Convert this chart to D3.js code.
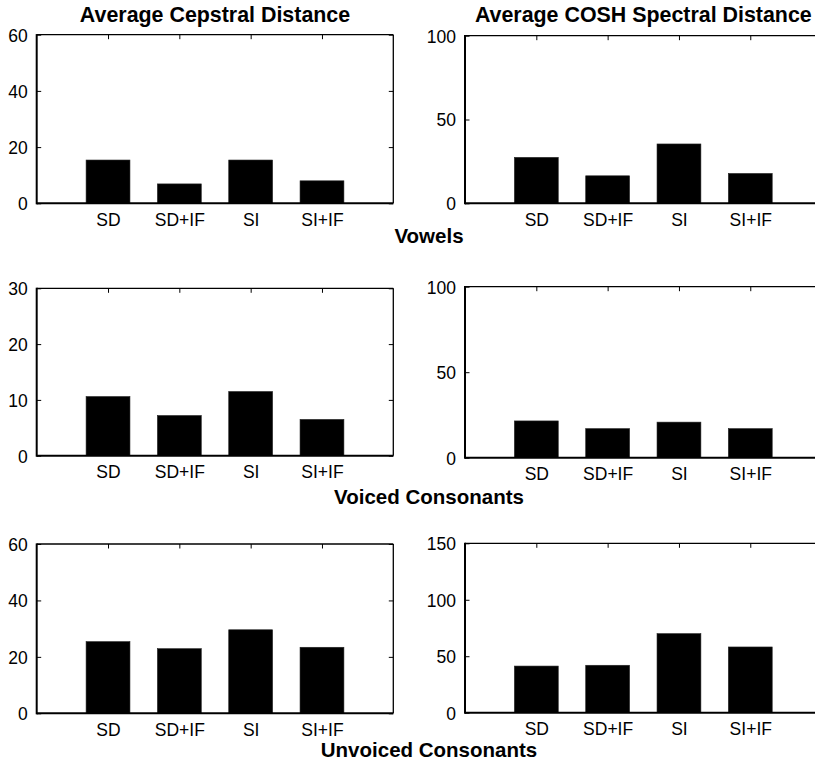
<!DOCTYPE html>
<html>
<head>
<meta charset="utf-8">
<script src="https://cdn.jsdelivr.net/npm/d3@7"></script>
<style>
  html, body { margin: 0; padding: 0; background: #fff; }
  svg { display: block; }
  text { font-family: "Liberation Sans", Arial, Helvetica, sans-serif; fill: #000; }
</style>
</head>
<body>
<svg id="chart" width="815" height="765"></svg>
<script>
// Method labels along each x axis
const categories = ["SD", "SD+IF", "SI", "SI+IF"];

// Column titles and row (phoneme class) labels
const columnTitles = ["Average Cepstral Distance", "Average COSH Spectral Distance"];
const rowLabels = ["Vowels", "Voiced Consonants", "Unvoiced Consonants"];

// Average distances per method
const cepstralVowels   = [15.4, 6.9, 15.4, 8.0];
const coshVowels       = [27.4, 16.4, 35.4, 17.8];
const cepstralVoiced   = [10.6, 7.2, 11.5, 6.5];
const coshVoiced       = [21.5, 17.0, 20.8, 17.0];
const cepstralUnvoiced = [25.4, 22.9, 29.6, 23.4];
const coshUnvoiced     = [41.3, 42.0, 70.0, 58.2];

// Y-axis upper limits and tick labels per panel
const yMax = [60, 100, 30, 100, 60, 150];
const yTicks = [
  [0, 20, 40, 60],
  [0, 50, 100],
  [0, 10, 20, 30],
  [0, 50, 100],
  [0, 20, 40, 60],
  [0, 50, 100, 150]
];

const series = [cepstralVowels, coshVowels, cepstralVoiced, coshVoiced, cepstralUnvoiced, coshUnvoiced];

// Axes boxes (left, right, top, bottom) in pixels
const boxes = [
  {l: 36.7, r: 393.3, t: 34.7,  b: 203.3},
  {l: 465,  r: 821.6, t: 35.7,  b: 203.3},
  {l: 36.7, r: 393.3, t: 288.3, b: 455.7},
  {l: 465,  r: 821.6, t: 286.7, b: 457.7},
  {l: 36.7, r: 393.3, t: 544,   b: 713.3},
  {l: 465,  r: 821.6, t: 543.3, b: 712.7}
];

const svg = d3.select("#chart");
const barFrac = 0.615;
const tickLen = 4.5;
const tickFont = 17.5;

series.forEach((vals, i) => {
  const box = boxes[i];
  const x = d3.scaleLinear().domain([0, categories.length + 1]).range([box.l, box.r]);
  const y = d3.scaleLinear().domain([0, yMax[i]]).range([box.b, box.t]);
  const g = svg.append("g");
  const bw = (x(1) - x(0)) * barFrac;

  // bars
  g.selectAll("rect.bar").data(vals).enter().append("rect")
    .attr("class", "bar")
    .attr("x", (d, j) => x(j + 1) - bw / 2)
    .attr("y", d => y(d))
    .attr("width", bw)
    .attr("height", d => y(0) - y(d))
    .attr("fill", "#000")
    .attr("stroke", "#222")
    .attr("stroke-width", 0.6);

  // bottom axis with category labels
  const xAxis = d3.axisBottom(x)
    .tickValues(d3.range(1, categories.length + 1))
    .tickFormat(d => categories[d - 1])
    .tickSizeInner(-tickLen).tickSizeOuter(0).tickPadding(10);
  const gx = g.append("g").attr("transform", `translate(0,${box.b})`).call(xAxis);
  gx.select(".domain").remove();
  gx.selectAll("line").attr("stroke", "#000");
  gx.selectAll("text").attr("font-size", tickFont).attr("dy", 0).attr("y", 22.5);

  // top ticks
  const gxt = g.append("g").attr("transform", `translate(0,${box.t})`)
    .call(d3.axisTop(x).tickValues(d3.range(1, categories.length + 1)).tickFormat("")
      .tickSizeInner(-tickLen).tickSizeOuter(0));
  gxt.select(".domain").remove();
  gxt.selectAll("line").attr("stroke", "#000");

  // left axis with values
  const yAxis = d3.axisLeft(y).tickValues(yTicks[i]).tickFormat(d3.format("d"))
    .tickSizeInner(-tickLen).tickSizeOuter(0).tickPadding(4.5 + tickLen);
  const gy = g.append("g").attr("transform", `translate(${box.l},0)`).call(yAxis);
  gy.select(".domain").remove();
  gy.selectAll("line").attr("stroke", "#000");
  gy.selectAll("text").attr("font-size", tickFont).attr("dy", "0.36em");

  // right ticks
  const gyr = g.append("g").attr("transform", `translate(${box.r},0)`)
    .call(d3.axisRight(y).tickValues(yTicks[i]).tickFormat("")
      .tickSizeInner(-tickLen).tickSizeOuter(0));
  gyr.select(".domain").remove();
  gyr.selectAll("line").attr("stroke", "#000");

  // frame: thin top/right, heavier left/bottom
  g.append("line").attr("x1", box.l).attr("x2", box.r).attr("y1", box.t).attr("y2", box.t)
    .attr("stroke", "#000").attr("stroke-width", 1.3);
  g.append("line").attr("x1", box.r).attr("x2", box.r).attr("y1", box.t).attr("y2", box.b)
    .attr("stroke", "#000").attr("stroke-width", 1.3);
  g.append("line").attr("x1", box.l).attr("x2", box.r).attr("y1", box.b).attr("y2", box.b)
    .attr("stroke", "#000").attr("stroke-width", 2);
  g.append("line").attr("x1", box.l).attr("x2", box.l).attr("y1", box.t - 0.6).attr("y2", box.b + 1)
    .attr("stroke", "#000").attr("stroke-width", 2);
});

// column titles
columnTitles.forEach((t, c) => {
  const box = boxes[c];
  svg.append("text")
    .attr("x", (box.l + box.r) / 2)
    .attr("y", 21.5)
    .attr("text-anchor", "middle")
    .attr("font-size", 21.4)
    .attr("font-weight", "bold")
    .text(t);
});

// row labels below each row
const rowBaselines = [243, 504, 757];
rowLabels.forEach((t, r) => {
  svg.append("text")
    .attr("x", 429)
    .attr("y", rowBaselines[r])
    .attr("text-anchor", "middle")
    .attr("font-size", 20.5)
    .attr("font-weight", "bold")
    .text(t);
});
</script>
</body>
</html>
